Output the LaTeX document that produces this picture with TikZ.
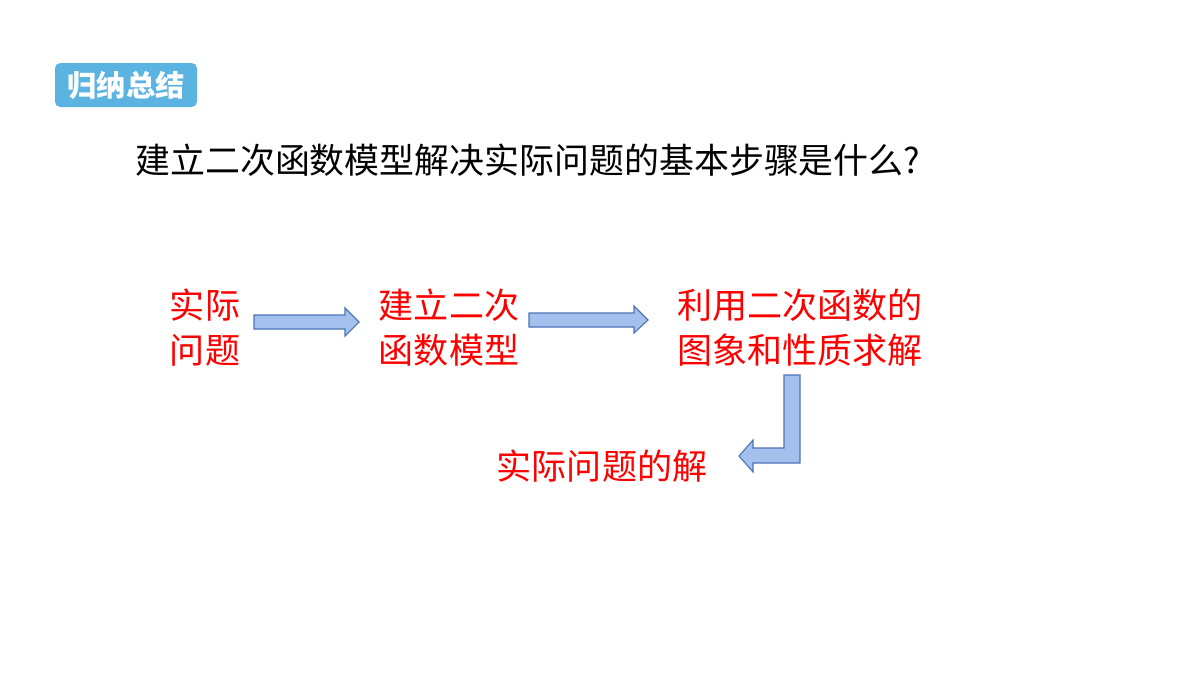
\documentclass[tikz,border=0pt]{standalone}
\usepackage{fontspec}
\setmainfont{Noto Sans CJK SC}
\usetikzlibrary{shapes.arrows}
\definecolor{badgeblue}{HTML}{5BB3E1}
\definecolor{arrowfill}{HTML}{A4C1EE}
\definecolor{arrowline}{HTML}{4B73B6}
\begin{document}
\begin{tikzpicture}[
  x=0.75pt, y=-0.75pt,
  badge/.style={fill=badgeblue, rounded corners=4pt, text=white, font=\fontsize{22}{24}\selectfont\bfseries, minimum width=106.5pt, minimum height=33pt, inner sep=0pt},
  question/.style={font=\fontsize{26.2}{32}\selectfont, anchor=west, inner sep=0pt},
  stepnode/.style={text=red, font=\fontsize{26.3}{33.8}\selectfont, align=center, inner sep=0pt},
  blockarrow/.style={fill=arrowfill, draw=arrowline, line width=0.8pt},
]
  \useasboundingbox (0,0) rectangle (1200,675);

  \node[badge] (tag) at (126,85) {归纳总结};
  \node[question] (title) at (135,160) {建立二次函数模型解决实际问题的基本步骤是什么?};

  \node[stepnode] (s1) at (205,328) {实际\\问题};
  \node[stepnode] (s2) at (449,328) {建立二次\\函数模型};
  \node[stepnode] (s3) at (800,328) {利用二次函数的\\图象和性质求解};
  \node[stepnode] (s4) at (602,466) {实际问题的解};

  % straight arrows
  \draw[blockarrow] (254,315) -- (345,315) -- (345,308) -- (359,322) -- (345,336)
    -- (345,329) -- (254,329) -- cycle;
  \draw[blockarrow] (529,313) -- (634,313) -- (634,306) -- (648,320) -- (634,333)
    -- (634,327) -- (529,327) -- cycle;

  % bent arrow
  \draw[blockarrow] (784,375) -- (800,375) -- (800,463) -- (753,463) -- (753,472)
    -- (739,456) -- (753,440) -- (753,448) -- (784,448) -- cycle;
\end{tikzpicture}
\end{document}
